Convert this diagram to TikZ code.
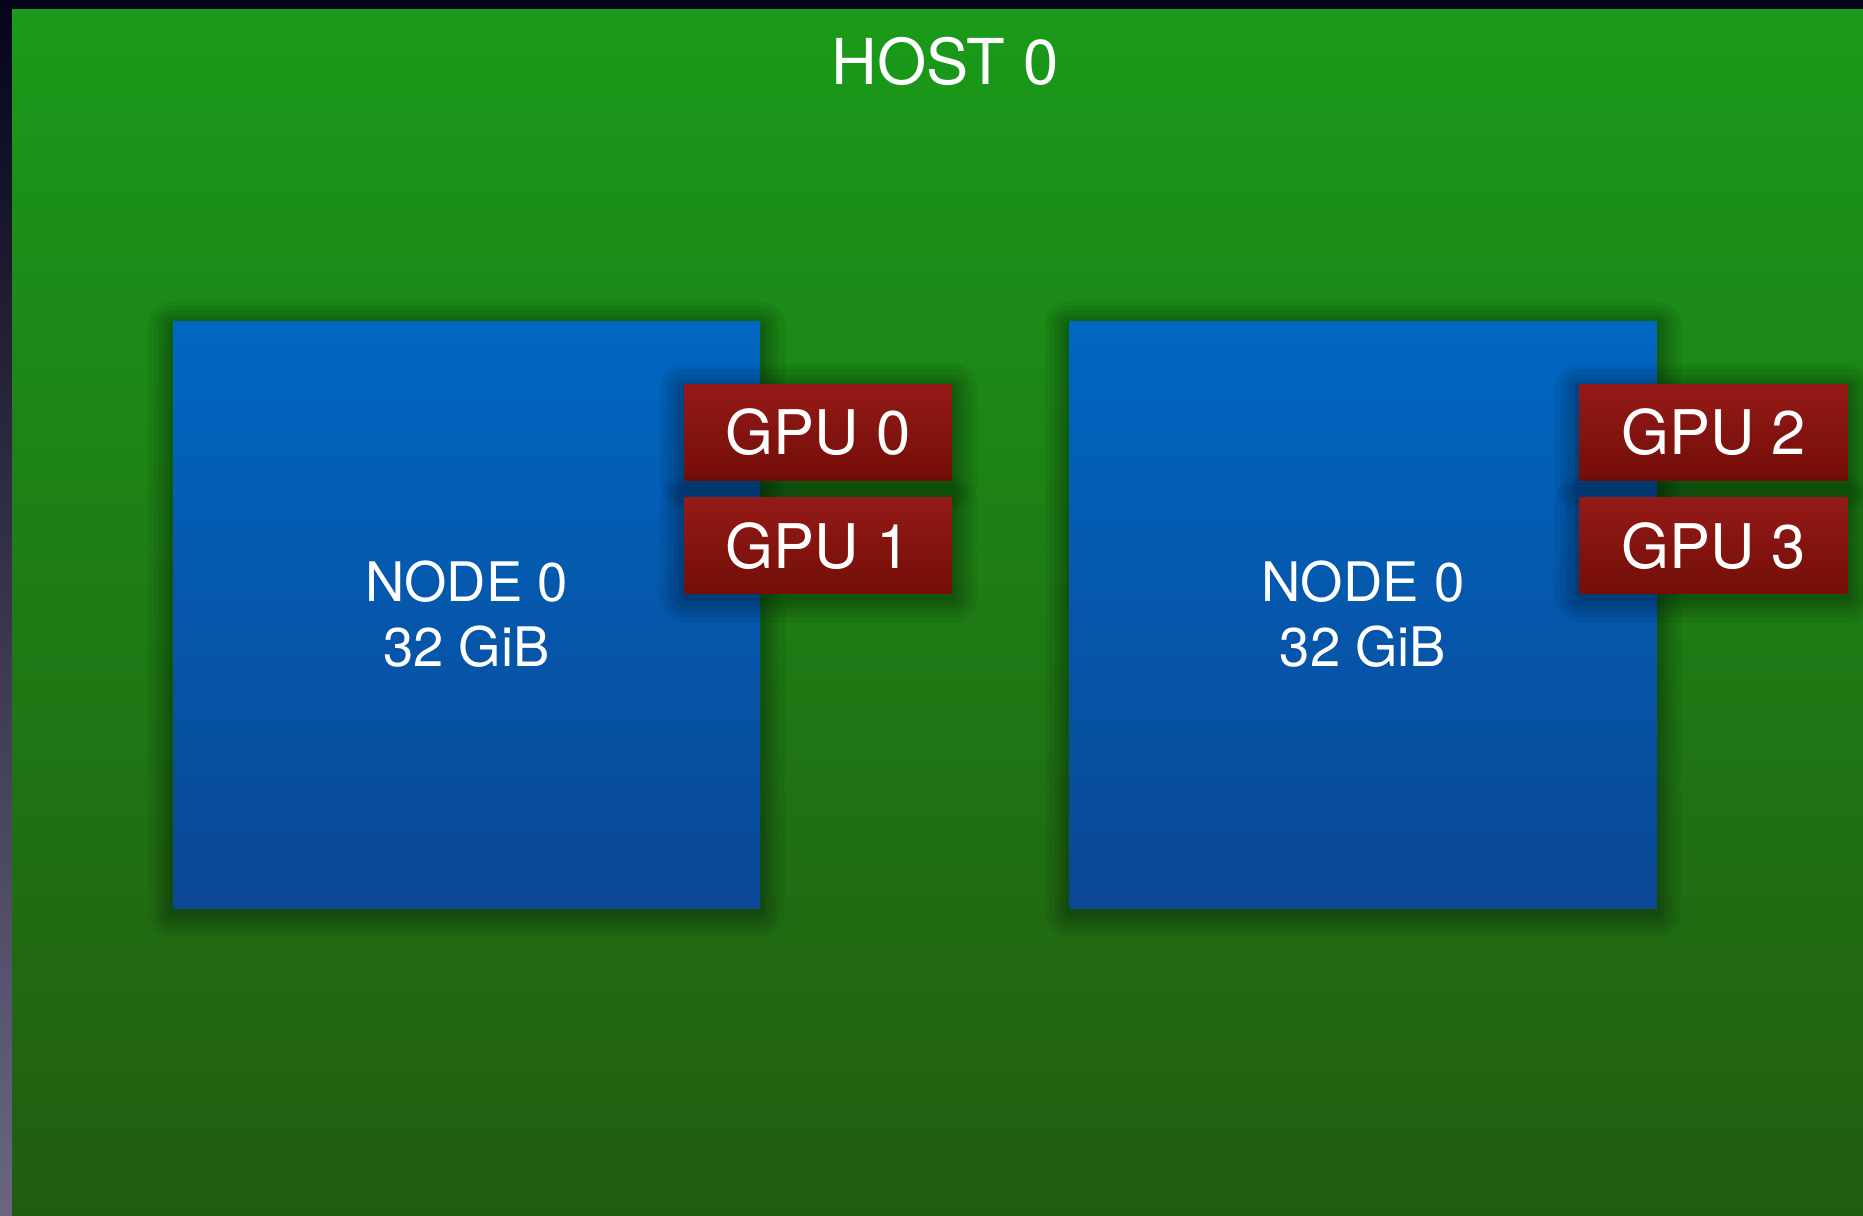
\documentclass[tikz,border=0pt]{standalone}
\usepackage{fontspec}
\setmainfont{TeX Gyre Heros}
\usetikzlibrary{positioning}
\definecolor{framedark}{HTML}{05051A}
\definecolor{framelight}{HTML}{6A6680}
\definecolor{hosttop}{HTML}{1A9A1A}
\definecolor{hostbot}{HTML}{225C10}
\definecolor{numatop}{HTML}{0067C2}
\definecolor{numabot}{HTML}{0A4794}
\definecolor{gputop}{HTML}{941A17}
\definecolor{gpubot}{HTML}{730E08}
\tikzstyle{shadowring}=[draw=black, line join=round, opacity=.055,
  transform canvas={yshift=-1.2pt}]
\tikzstyle{softshadow}=[
  preaction={shadowring, line width=14pt},
  preaction={shadowring, line width=11pt},
  preaction={shadowring, line width=8.5pt},
  preaction={shadowring, line width=6pt},
  preaction={shadowring, line width=4pt},
  preaction={shadowring, line width=2pt}]
\tikzstyle{host}=[rectangle, top color=hosttop, bottom color=hostbot,
  minimum width=18.51cm, minimum height=12.06cm, inner sep=0pt]
\tikzstyle{numa}=[rectangle, top color=numatop, bottom color=numabot,
  text=white, align=center, font=\fontsize{15.5}{18.5}\selectfont,
  minimum width=5.87cm, minimum height=5.87cm, inner sep=0pt, softshadow]
\tikzstyle{gpu}=[rectangle, top color=gputop, bottom color=gpubot,
  text=white, font=\fontsize{17.5}{20}\selectfont,
  minimum width=2.68cm, minimum height=0.96cm, inner sep=0pt, softshadow]
\tikzstyle{texto}=[text=white, font=\fontsize{18}{20}\selectfont]
\newcommand{\numanode}[3]{node (#1) [numa] {#2\\#3}}

\begin{document}
\begin{tikzpicture}
  \useasboundingbox (0,0) rectangle (18.63,-12.15);
  % dark frame behind the host
  \shade[top color=framedark, bottom color=framelight] (0,0) rectangle (18.63,-12.15);

  % host area
  \path (9.375,-6.12) node (HOST) [host] {};
  \path (HOST.north)+(0.075,-0.53) node (HOSTLABEL) [texto] {HOST 0};

  % numa nodes
  \path (4.665,-6.145) \numanode{NODEA}{NODE 0}{32 GiB};
  \path (13.63,-6.145) \numanode{NODEB}{NODE 0}{32 GiB};

  % gpus attached to each node
  \path (NODEA.north east)+(0.575,-1.12) node (GPUA) [gpu] {GPU 0};
  \node (GPUB) [gpu, below=0.16cm of GPUA] {GPU 1};
  \path (NODEB.north east)+(0.565,-1.12) node (GPUC) [gpu] {GPU 2};
  \node (GPUD) [gpu, below=0.16cm of GPUC] {GPU 3};

\end{tikzpicture}
\end{document}
